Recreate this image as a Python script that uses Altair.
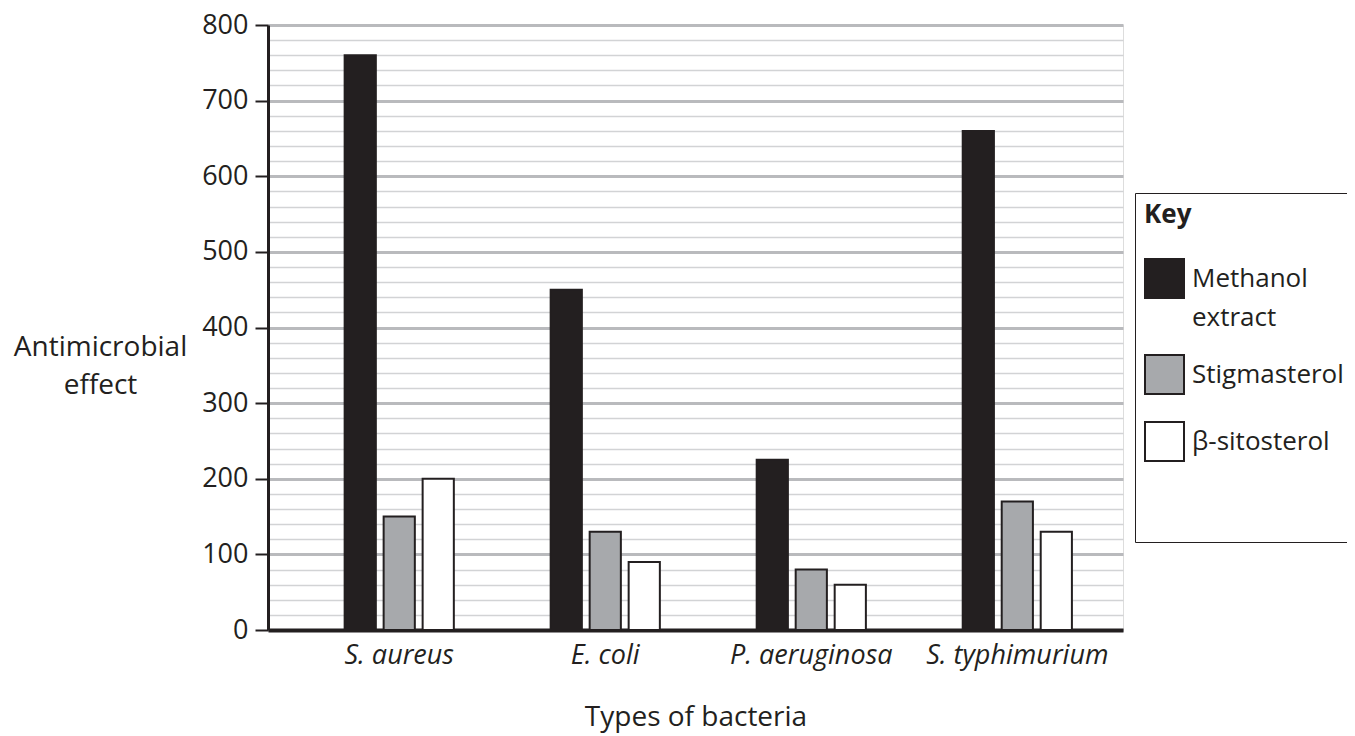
import altair as alt
import pandas as pd

bacteria = ["S. aureus", "E. coli", "P. aeruginosa", "S. typhimurium"]
series = ["Methanol extract", "Stigmasterol", "β-sitosterol"]
methanol = [760, 450, 225, 660]
stigmasterol = [150, 130, 80, 170]
sitosterol = [200, 90, 60, 130]
colors = ["#231f20", "#a7a9ac", "#ffffff"]
y_ticks = list(range(0, 801, 20))

rows = []
for vals, s in zip([methanol, stigmasterol, sitosterol], series):
    for b, v in zip(bacteria, vals):
        rows.append({"bacteria": b, "series": s, "value": v})
df = pd.DataFrame(rows)

FONT = "Open Sans"
INK = "#231f20"

chart = alt.Chart(df).mark_bar(stroke=INK, strokeWidth=2).encode(
    x=alt.X(
        "bacteria:N",
        sort=bacteria,
        scale=alt.Scale(paddingInner=0.47, paddingOuter=0.31, align=0.6),
        axis=alt.Axis(
            title="Types of bacteria",
            labelAngle=0,
            labelFont=FONT,
            labelFontSize=27,
            labelFontStyle="italic",
            labelColor=INK,
            labelPadding=12,
            labelLimit=400,
            ticks=False,
            domainColor=INK,
            domainWidth=4,
            titleFont=FONT,
            titleFontSize=28,
            titleFontWeight="normal",
            titleColor=INK,
            titlePadding=35,
        ),
    ),
    xOffset=alt.XOffset("series:N", sort=series, scale=alt.Scale(paddingInner=0.2, paddingOuter=0)),
    y=alt.Y(
        "value:Q",
        scale=alt.Scale(domain=[0, 800], nice=False),
        axis=alt.Axis(
            title=["Antimicrobial", "effect"],
            values=y_ticks,
            labelExpr="datum.value % 100 == 0 ? datum.label : ''",
            labelFont=FONT,
            labelFontSize=27,
            labelColor=INK,
            labelPadding=7,
            tickSize=13,
            tickColor=INK,
            tickWidth=2,
            tickOpacity={"condition": {"test": "datum.value % 100 == 0", "value": 1}, "value": 0},
            domainColor=INK,
            domainWidth=3,
            grid=True,
            gridColor={"condition": {"test": "datum.value % 100 == 0", "value": "#b9babd"}, "value": "#d2d3d5"},
            gridWidth={"condition": {"test": "datum.value % 100 == 0", "value": 3}, "value": 1.5},
            titleAngle=0,
            titleFont=FONT,
            titleFontSize=28,
            titleFontWeight="normal",
            titleColor=INK,
            titleAlign="center",
            titleBaseline="top",
            titleX=-168,
            titleY=308,
            titleLineHeight=38,
        ),
    ),
    fill=alt.Fill(
        "series:N",
        sort=series,
        scale=alt.Scale(domain=series, range=colors),
        legend=alt.Legend(
            title="Key",
            orient="none",
            legendX=867,
            legendY=168,
            strokeColor=INK,
            fillColor="white",
            padding=9,
            titleFont=FONT,
            titleFontSize=26,
            titleFontWeight="bold",
            titleColor=INK,
            titlePadding=30,
            symbolType="square",
            symbolSize=1521,
            symbolStrokeColor=INK,
            symbolStrokeWidth=2,
            labelFont=FONT,
            labelFontSize=26,
            labelColor=INK,
            labelOffset=7,
            labelLimit=400,
            rowPadding=20,
            labelExpr=(
                "datum.label == 'Methanol extract' ? ['Methanol', 'extract'] : "
                "(datum.label == 'β-sitosterol' ? ['β-sitosterol', ' ', ' '] : datum.label)"
            ),
        ),
    ),
).properties(
    width=855,
    height=605,
    autosize=alt.AutoSizeParams(type="none"),
    padding={"left": 260, "top": 17, "right": 224, "bottom": 104},
).configure_view(stroke=None).configure(
    style={"guide-label": {"lineHeight": 39}}
)

chart.save("out.html", embed_options={"renderer": "svg", "actions": False})
